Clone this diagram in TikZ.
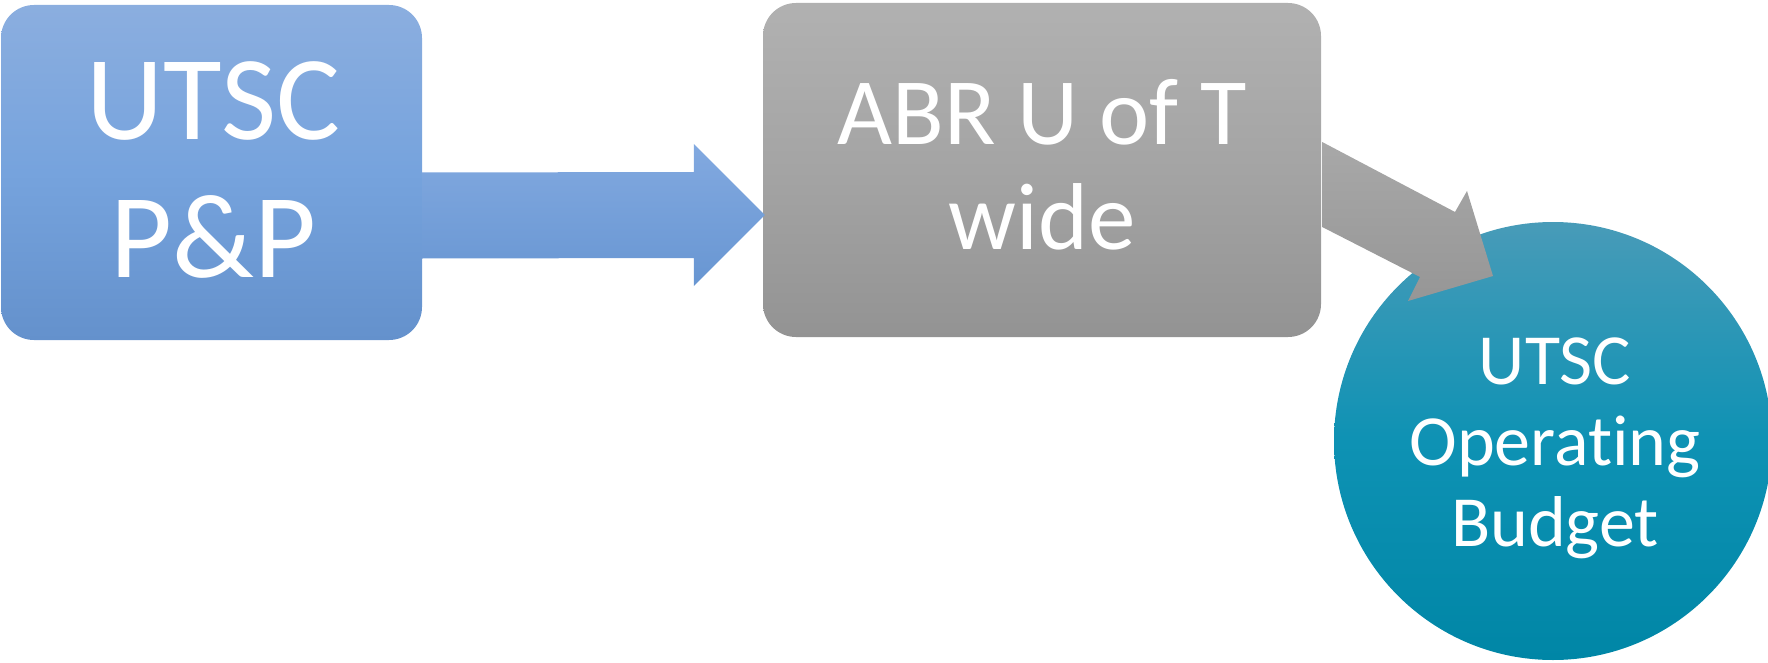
\documentclass[tikz,border=0pt]{standalone}
\usepackage{fontspec}
\setmainfont{Carlito}[Ligatures=NoCommon]
\usetikzlibrary{calc}
\definecolor{bTop}{RGB}{139,174,223}
\definecolor{bMid}{RGB}{118,163,221}
\definecolor{bBot}{RGB}{100,145,204}
\definecolor{aTop}{RGB}{130,169,224}
\definecolor{aBot}{RGB}{104,150,210}
\definecolor{gTop}{RGB}{177,177,177}
\definecolor{gMid}{RGB}{164,164,164}
\definecolor{gBot}{RGB}{147,147,147}
\definecolor{gaTop}{RGB}{168,168,168}
\definecolor{gaBot}{RGB}{150,150,150}
\definecolor{cTop}{RGB}{72,155,184}
\definecolor{cMid}{RGB}{14,146,180}
\definecolor{cBot}{RGB}{0,134,166}
\tikzset{
  box/.style={rounded corners=33pt, inner sep=0pt},
  bluebox/.style={box, top color=bTop, bottom color=bBot, middle color=bMid,
    minimum width=421pt, minimum height=335pt},
  graybox/.style={box, top color=gTop, bottom color=gBot, middle color=gMid,
    minimum width=558pt, minimum height=334pt},
  bud/.style={circle, inner sep=0pt, minimum size=438pt,
    top color=cTop, bottom color=cBot, middle color=cMid},
  txt/.style={inner sep=0pt, text=white, align=center},
  bluearrow/.style={top color=aTop, bottom color=aBot},
  grayarrow/.style={top color=gaTop, bottom color=gaBot}
}
\begin{document}
\begin{tikzpicture}[x=1pt,y=-1pt]
\useasboundingbox (0,0) rectangle (1768,663);
\clip (0,0) rectangle (1768,663);
\node[bluebox] (p) at (211.5,172.5) {};
\node[graybox] (g) at (1042,170) {};
\node[bud] (c) at (1553,441) {};
\node[txt, font=\fontsize{120}{138}\selectfont] (pt) at ($(p.center)+(2,-2)$) {UTSC\\P\&P};
\node[txt, font=\fontsize{95}{105}\selectfont] (gt0) at ($(g.center)+(0,-5)$) {ABR U of T\\wide};
\node[txt, font=\fontsize{72}{81}\selectfont] (ctx) at ($(c.center)+(2,7)$) {UTSC\\Operating\\Budget};
% blue block arrow from p to g
\coordinate (ba) at ($(p.east)+(0,43)$);
\coordinate (bt) at ($(g.west)+(2,45)$);
\shade[bluearrow] ($(ba)+(0,-43)$) -- ($(bt)+(-71,-43)$) -- ($(bt)+(-71,-71)$)
  -- (bt) -- ($(bt)+(-71,71)$) -- ($(bt)+(-71,43)$) -- ($(ba)+(0,43)$) -- cycle;
% gray block arrow from g to c
\coordinate (ga) at (g.east);
\coordinate (gt) at ($(c.center)+(-60,-165)$);
\shade[grayarrow] ($(ga)+(1,-28)$) -- ($(gt)+(-38,-64)$) -- ($(gt)+(-26,-85)$)
  -- (gt) -- ($(gt)+(-85,25)$) -- ($(gt)+(-73,1)$) -- ($(ga)+(1,57)$) -- cycle;
\end{tikzpicture}
\end{document}
